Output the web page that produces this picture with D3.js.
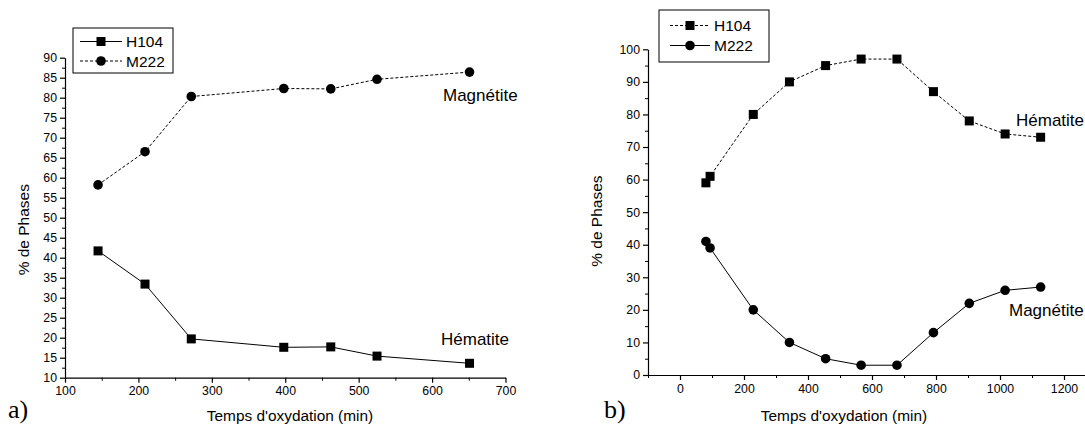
<!DOCTYPE html>
<html><head><meta charset="utf-8">
<script src="https://cdn.jsdelivr.net/npm/d3@7"></script>
<style>body{margin:0;background:#fff;} svg{display:block;} text{font-family:"Liberation Sans",Arial,sans-serif;fill:#000;}</style>
</head><body>
<svg id="c" width="1085" height="426"></svg>
<script>
// Panel a)
const aTime = [145, 209, 272, 398, 462, 525, 651];
const aH104 = [41.7, 33.4, 19.7, 17.6, 17.7, 15.4, 13.6];
const aM222 = [58.2, 66.5, 80.3, 82.3, 82.2, 84.6, 86.4];
const aXTicks = [100, 200, 300, 400, 500, 600, 700];
const aYTicks = [10, 15, 20, 25, 30, 35, 40, 45, 50, 55, 60, 65, 70, 75, 80, 85, 90];
// Panel b)
const bTime = [81, 94, 229, 342, 455, 566, 678, 792, 904, 1016, 1127];
const bH104 = [59, 61, 80, 90, 95, 97, 97, 87, 78, 74, 73];
const bM222 = [41, 39, 20, 10, 5, 3, 3, 13, 22, 26, 27];
const bXTicks = [0, 200, 400, 600, 800, 1000, 1200];
const bYTicks = [0, 10, 20, 30, 40, 50, 60, 70, 80, 90, 100];
const seriesNames = ["H104", "M222"];
const yLabel = "% de Phases";
const xLabel = "Temps d'oxydation (min)";

const svg = d3.select("#c");

function panel(cfg) {
  const g = svg.append("g");
  const x = d3.scaleLinear().domain(cfg.xDom).range(cfg.xRange);
  const y = d3.scaleLinear().domain(cfg.yDom).range(cfg.yRange);
  // minor ticks
  const xAxisMinor = d3.axisBottom(x).tickValues(cfg.xMinor).tickSize(3).tickFormat("");
  const yAxisMinor = d3.axisLeft(y).tickValues(cfg.yMinor).tickSize(3).tickFormat("");
  g.append("g").attr("transform", `translate(0,${cfg.yRange[0]})`).call(xAxisMinor)
    .call(s => s.select(".domain").remove());
  g.append("g").attr("transform", `translate(${cfg.xRange[0]},0)`).call(yAxisMinor)
    .call(s => s.select(".domain").remove());
  const fmt = d3.format("d");
  const xa = g.append("g").attr("transform", `translate(0,${cfg.yRange[0]})`)
    .call(d3.axisBottom(x).tickValues(cfg.xTicks).tickFormat(fmt).tickSize(5).tickSizeOuter(0).tickPadding(4));
  const ya = g.append("g").attr("transform", `translate(${cfg.xRange[0]},0)`)
    .call(d3.axisLeft(y).tickValues(cfg.yTicks).tickFormat(fmt).tickSize(5).tickSizeOuter(0).tickPadding(3));
  [xa, ya].forEach(a => {
    a.selectAll("text").style("font-size", "12.3px").style("font-family", '"Liberation Sans",Arial,sans-serif').attr("fill", "#000");
    a.selectAll("line,path").attr("stroke", "#000").attr("stroke-width", 1.2);
  });
  g.selectAll(".tick line").attr("stroke", "#000");

  const line = d3.line().x(d => x(d[0])).y(d => y(d[1]));
  cfg.series.forEach(s => {
    const pts = cfg.time.map((t, i) => [t, s.values[i]]);
    g.append("path").datum(pts).attr("d", line).attr("fill", "none")
      .attr("stroke", "#000").attr("stroke-width", 1)
      .attr("stroke-dasharray", s.dashed ? "3,2" : null);
    drawMarkers(g, pts.map(p => [x(p[0]), y(p[1])]), s.marker);
  });

  // legend
  const lg = g.append("g");
  lg.append("rect").attr("x", cfg.legend.x).attr("y", cfg.legend.y)
    .attr("width", cfg.legend.w).attr("height", cfg.legend.h)
    .attr("fill", "#fff").attr("stroke", "#000").attr("stroke-width", 1);
  cfg.series.forEach((s, i) => {
    const ly = cfg.legend.y + cfg.legend.rowY[i];
    lg.append("line").attr("x1", cfg.legend.x + cfg.legend.l1).attr("x2", cfg.legend.x + cfg.legend.l2)
      .attr("y1", ly).attr("y2", ly).attr("stroke", "#000").attr("stroke-width", 1)
      .attr("stroke-dasharray", s.dashed ? "3,2" : null);
    drawMarkers(lg, [[cfg.legend.x + (cfg.legend.l1 + cfg.legend.l2) / 2, ly]], s.marker);
    lg.append("text").attr("x", cfg.legend.x + cfg.legend.l2 + 4).attr("y", ly + 5.5)
      .style("font-size", "15.5px").text(s.name);
  });

  // annotations
  cfg.notes.forEach(n => g.append("text").attr("x", n.x).attr("y", n.y).style("font-size", "17px").text(n.t));

  g.append("text").attr("transform", `translate(${cfg.yLabelX},${(cfg.yRange[0] + cfg.yRange[1]) / 2 + cfg.yLabelDy}) rotate(-90)`)
    .attr("text-anchor", "middle").style("font-size", "15.5px").text(yLabel);
  g.append("text").attr("x", cfg.xLabelX).attr("y", 421).attr("text-anchor", "middle")
    .style("font-size", "15.4px").text(xLabel);
  g.append("text").attr("x", cfg.tag.x).attr("y", 418)
    .style("font-family", '"Liberation Serif","Times New Roman",serif').style("font-size", "26px").text(cfg.tag.t);
}

function drawMarkers(g, pts, type) {
  if (type === "square") {
    g.selectAll(null).data(pts).enter().append("rect")
      .attr("x", d => d[0] - 4.5).attr("y", d => d[1] - 4.5).attr("width", 9).attr("height", 9).attr("fill", "#000");
  } else {
    g.selectAll(null).data(pts).enter().append("circle")
      .attr("cx", d => d[0]).attr("cy", d => d[1]).attr("r", 4.8).attr("fill", "#000");
  }
}

panel({
  xDom: [100, 700], xRange: [65, 505.5],
  yDom: [10, 90], yRange: [377.7, 57.7],
  xTicks: aXTicks, yTicks: aYTicks,
  xMinor: d3.range(150, 700, 100), yMinor: d3.range(12.5, 90, 5),
  time: aTime,
  series: [
    {name: seriesNames[0], values: aH104, dashed: false, marker: "square"},
    {name: seriesNames[1], values: aM222, dashed: true, marker: "circle"}
  ],
  legend: {x: 73, y: 28, w: 100, h: 45, rowY: [13.5, 33], l1: 7, l2: 49},
  notes: [{x: 443, y: 101, t: "Magnétite"}, {x: 441, y: 345, t: "Hématite"}],
  yLabelX: 29, yLabelDy: 12, xLabelX: 290,
  tag: {x: 8, t: "a)"}
});

panel({
  xDom: [-100, 1300], xRange: [648, 648 + 1400 * 0.32],
  yDom: [0, 100], yRange: [375, 49.3],
  xTicks: bXTicks, yTicks: bYTicks,
  xMinor: d3.range(-100, 1300, 200), yMinor: d3.range(5, 100, 10),
  time: bTime,
  series: [
    {name: seriesNames[0], values: bH104, dashed: true, marker: "square"},
    {name: seriesNames[1], values: bM222, dashed: false, marker: "circle"}
  ],
  legend: {x: 659, y: 10, w: 110, h: 52, rowY: [15.5, 35.5], l1: 11, l2: 51},
  notes: [{x: 1016, y: 126, t: "Hématite"}, {x: 1009, y: 316, t: "Magnétite"}],
  yLabelX: 602, yLabelDy: 9, xLabelX: 844,
  tag: {x: 604, t: "b)"}
});
</script>
</body></html>
